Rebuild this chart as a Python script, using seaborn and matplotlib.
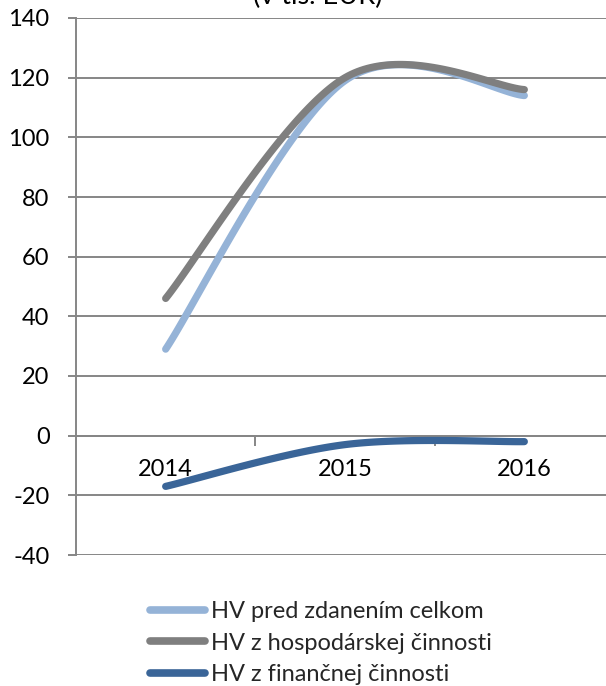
import numpy as np
import pandas as pd
import matplotlib
matplotlib.use("Agg")
import matplotlib.pyplot as plt
import seaborn as sns

# ---- data ----
years = ["2014", "2015", "2016"]
hv_pred_zdanenim = [29, 119, 114]
hv_hospodarska = [46, 120, 116]
hv_financna = [-17, -3, -2]
series_names = ["HV pred zdanením celkom", "HV z hospodárskej činnosti", "HV z finančnej činnosti"]
series_values = [hv_pred_zdanenim, hv_hospodarska, hv_financna]
colors = ["#95B3D7", "#7F7F7F", "#3A6598"]
y_ticks = [-40, -20, 0, 20, 40, 60, 80, 100, 120, 140]
title_text = "(v tis. EUR)"

sns.set_theme(style="white")
plt.rcParams["font.family"] = ["Lato", "DejaVu Sans"]


def smooth(xs, ys, n=60):
    """Excel-like smoothed line (Catmull-Rom Bezier) through the points."""
    xs = np.asarray(xs, float)
    ys = np.asarray(ys, float)
    P = np.column_stack([xs, ys])
    out = []
    for i in range(len(P) - 1):
        p0 = P[i - 1] if i > 0 else P[i]
        p1 = P[i]
        p2 = P[i + 1]
        p3 = P[i + 2] if i + 2 < len(P) else P[i + 1]
        c1 = p1 + (p2 - p0) / 6.0
        c2 = p2 - (p3 - p1) / 6.0
        t = np.linspace(0, 1, n)[:, None]
        seg = ((1 - t) ** 3) * p1 + 3 * ((1 - t) ** 2) * t * c1 + 3 * (1 - t) * t ** 2 * c2 + t ** 3 * p2
        out.append(seg if i == 0 else seg[1:])
    arr = np.vstack(out)
    return arr[:, 0], arr[:, 1]


rows = []
xpos = np.arange(len(years))
for name, vals in zip(series_names, series_values):
    sx, sy = smooth(xpos, vals)
    for k, (a, b) in enumerate(zip(sx, sy)):
        rows.append({"x": a, "y": b, "series": name, "order": k})
df = pd.DataFrame(rows)

W, H = 606, 686
fig = plt.figure(figsize=(W / 100, H / 100), dpi=100)
left, right, top, bottom = 76, 614, 18, 555
ax = fig.add_axes([left / W, 1 - bottom / H, (right - left) / W, (bottom - top) / H])

grid_c = "#868686"
for yv in y_ticks:
    ax.axhline(yv, color=grid_c, lw=1.4, zorder=1)

sns.lineplot(data=df, x="x", y="y", hue="series", palette=dict(zip(series_names, colors)),
             sort=False, estimator=None, units="series", lw=5.2, ax=ax, legend=False, zorder=3)
for line in ax.get_lines():
    line.set_solid_capstyle("round")

ax.set_xlim(-0.5, 2.5)
ax.set_ylim(-40, 140)
ax.set_xlabel("")
ax.set_ylabel("")

for s in ["top", "right"]:
    ax.spines[s].set_visible(False)
ax.spines["left"].set_color(grid_c)
ax.spines["left"].set_linewidth(1.4)
ax.spines["bottom"].set_position(("data", 0))
ax.spines["bottom"].set_color(grid_c)
ax.spines["bottom"].set_linewidth(1.4)

ax.set_yticks(y_ticks)
ax.set_yticklabels([str(v) for v in y_ticks])
ax.tick_params(axis="y", direction="out", length=6, width=1.4, color=grid_c, pad=13,
               labelsize=17, labelcolor="black", left=True)

ax.set_xticks([0.5, 1.5, 2.5])
ax.set_xticklabels([])
ax.set_xticks(xpos, minor=True)
ax.set_xticklabels(years, minor=True)
ax.tick_params(axis="x", which="major", direction="out", length=7, width=1.4, color=grid_c, bottom=True)
ax.tick_params(axis="x", which="minor", length=0, pad=17, labelsize=17, labelcolor="black")

fig.text(318 / W, 1 - 4 / H, title_text, ha="center", va="baseline", fontsize=19.5, color="black")

handles = [plt.Line2D([], [], color=c, lw=5.5, solid_capstyle="round") for c in colors]
fig.legend(handles, series_names, loc="upper left", bbox_to_anchor=(150 / W, 1 - 601 / H),
           frameon=False, fontsize=17, handlelength=2.35, handletextpad=0.25,
           labelspacing=0.45, borderpad=0, borderaxespad=0)

fig.savefig("out.png", dpi=100)
